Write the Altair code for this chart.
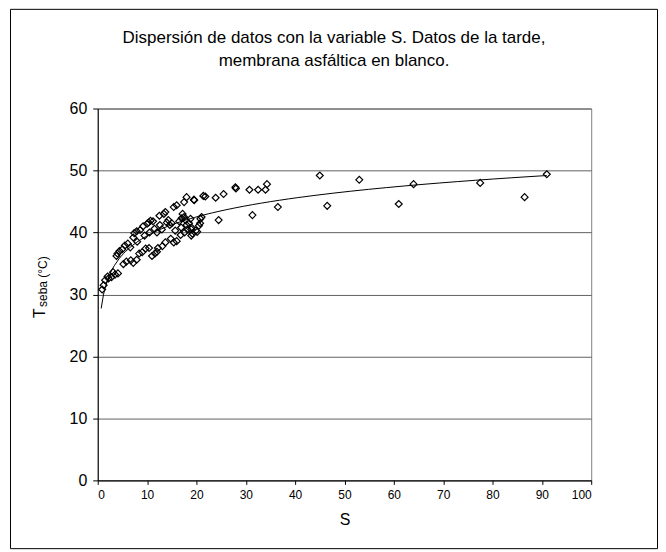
import altair as alt
import pandas as pd

S_vals = [0.9, 1.2, 1.5, 2.2, 2.8, 3.1, 3.5, 4.1, 4.0, 4.4, 5.0, 5.5, 6.1, 6.6, 7.2, 7.4, 7.9, 8.6, 9.2, 10.0,
          5.2, 5.8, 6.7, 7.2, 7.9, 8.4, 9.0, 9.7, 3.8, 2.0,
          10.7, 12.5, 13.4, 13.7, 15.4, 16.0, 17.5, 18.0, 19.5, 21.4, 11.2, 10.3,
          10.4, 11.0, 12.2, 13.1, 13.7, 15.4, 16.0, 15.7, 16.9, 19.0, 19.9, 20.5, 20.8, 11.6, 12.0, 14.8,
          14.0, 14.3, 14.6, 15.0, 16.5, 17.0, 17.2, 17.5, 17.8, 18.0, 18.2, 18.5, 17.6, 16.8, 19.2, 18.8,
          12.0, 11.5, 12.6, 13.0, 9.5, 10.5, 8.0,
          18.95, 18.95, 20.15, 20.75, 21.05, 24.5,
          19.55, 21.8, 23.9, 25.5, 27.9, 28.0, 30.75, 32.5, 34.0, 34.3, 36.5, 31.35,
          45.0, 46.5, 53.0, 61.0, 64.0, 77.5, 86.5, 91.0]
T_vals = [30.8, 31.5, 32.3, 32.6, 32.8, 33.6, 33.2, 33.4, 36.6, 37.0, 37.3, 37.9, 38.2, 37.6, 39.2, 39.9, 40.2, 40.4, 41.0, 41.4,
          34.9, 35.3, 35.5, 35.1, 35.6, 36.6, 36.8, 37.4, 36.2, 32.9,
          41.9, 42.7, 43.0, 43.3, 44.1, 44.4, 44.9, 45.7, 45.3, 45.9, 41.8, 41.6,
          37.5, 36.2, 37.5, 37.8, 38.4, 38.4, 38.6, 40.3, 40.8, 40.8, 40.3, 41.1, 42.2, 36.6, 36.9, 39.0,
          41.6, 42.0, 41.2, 41.5, 41.8, 42.3, 43.0, 42.5, 42.0, 41.2, 40.5, 41.5, 40.0, 39.6, 39.8, 42.2,
          40.0, 40.6, 41.2, 40.5, 39.5, 40.0, 38.5,
          40.5, 39.5, 40.1, 41.5, 42.5, 42.0,
          45.2, 45.8, 45.6, 46.2, 47.3, 47.1, 46.9, 46.9, 46.9, 47.8, 44.1, 42.8,
          49.2, 44.3, 48.5, 44.6, 47.8, 48.0, 45.7, 49.4]

title_lines = ["Dispersión de datos con la variable S. Datos de la tarde,",
               "membrana asfáltica en blanco."]
y_ticks = [0, 10, 20, 30, 40, 50, 60]
x_ticks = [0, 10, 20, 30, 40, 50, 60, 70, 80, 90, 100]

df = pd.DataFrame({"S": S_vals, "T": T_vals})
FONT = "Liberation Sans"

xs = alt.X("S:Q", scale=alt.Scale(domain=[0, 100], nice=False),
           axis=alt.Axis(values=x_ticks, title="S", grid=False, labelFontSize=12,
                         titleFontSize=16, titleFontWeight="normal", titlePadding=11,
                         tickSize=4, labelPadding=5, domainColor="black", tickColor="black",
                         labelColor="black", titleColor="black", labelFont=FONT, titleFont=FONT))
ys = alt.Y("T:Q", scale=alt.Scale(domain=[0, 60], nice=False),
           axis=alt.Axis(values=y_ticks, title=None, grid=True, gridColor="#606060",
                         labelFontSize=16, tickSize=5, labelPadding=6, domainColor="black",
                         tickColor="black", labelColor="black", labelFont=FONT))

points = alt.Chart(df).mark_point(shape="diamond", filled=False, color="black",
                                  size=48, strokeWidth=1.2, opacity=1).encode(x=xs, y=ys)

trend = alt.Chart(df).transform_regression("S", "T", method="log", extent=[0.7, 91]).mark_line(
    color="black", strokeWidth=1).encode(x="S:Q", y="T:Q")

t1 = alt.Chart(pd.DataFrame({"t": [title_lines[0]]})).mark_text(
    fontSize=17, font=FONT, color="black", align="center", baseline="middle").encode(
    text="t:N", x=alt.value(237), y=alt.value(-71))
t2 = alt.Chart(pd.DataFrame({"t": [title_lines[1]]})).mark_text(
    fontSize=17, font=FONT, color="black", align="center", baseline="middle").encode(
    text="t:N", x=alt.value(237), y=alt.value(-48))

yt1 = alt.Chart(pd.DataFrame({"t": ["T"]})).mark_text(
    fontSize=16, font=FONT, color="black", align="left", baseline="middle", angle=270).encode(
    text="t:N", x=alt.value(-58), y=alt.value(210))
yt2 = alt.Chart(pd.DataFrame({"t": ["seba (°C)"]})).mark_text(
    fontSize=12, font=FONT, color="black", align="left", baseline="middle", angle=270).encode(
    text="t:N", x=alt.value(-55), y=alt.value(199))

frame = alt.Chart(pd.DataFrame({"a": [0]})).mark_rect(
    fill=None, stroke="black", strokeWidth=1, clip=False).encode(
    x=alt.value(-87.5), x2=alt.value(561.5), y=alt.value(-99.5), y2=alt.value(441.5))

chart = alt.layer(frame, points, trend, t1, t2, yt1, yt2).properties(
    width=495, height=373,
    autosize=alt.AutoSizeParams(type="none"),
    padding={"left": 90, "top": 100, "right": 67, "bottom": 70},
    background="white",
).configure_view(stroke="#808080", strokeWidth=1)

chart.save("out.html", embed_options={"renderer": "svg", "actions": False})
